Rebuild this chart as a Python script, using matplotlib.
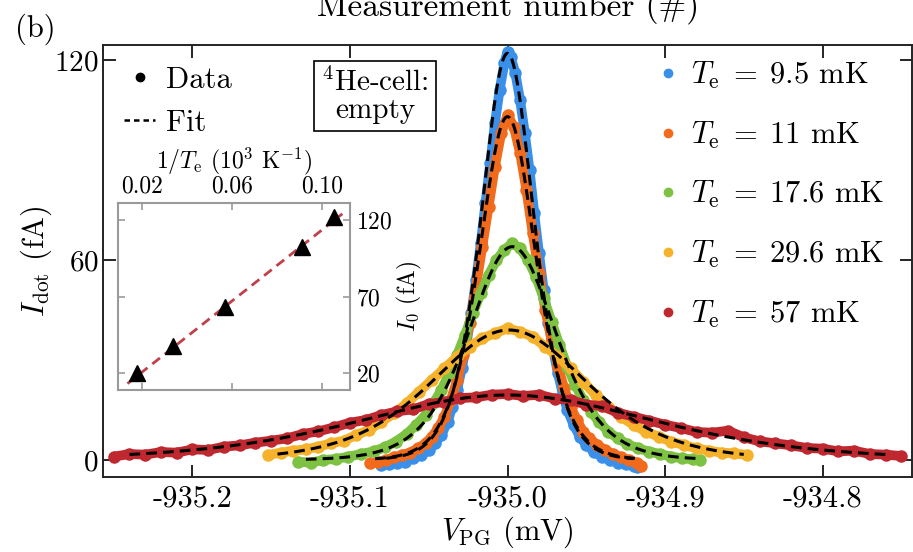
import numpy as np
import matplotlib
matplotlib.use("Agg")
import matplotlib.pyplot as plt
from matplotlib.lines import Line2D

plt.rcParams['font.family'] = 'serif'
plt.rcParams['font.serif'] = ['cmr10']
plt.rcParams['mathtext.fontset'] = 'cm'
plt.rcParams['axes.formatter.use_mathtext'] = True

# ---------------- data ----------------
temps_mK = [9.5, 11, 17.6, 29.6, 57]
temp_labels = ['9.5', '11', '17.6', '29.6', '57']
colors = ['#3a8fe8', '#f26b1d', '#7dc242', '#f7b22c', '#c0282f']

blue_v = [-935.080, -935.075, -935.070, -935.065, -935.060, -935.055, -935.050, -935.046, -935.042,
          -935.038, -935.035, -935.032, -935.029, -935.026, -935.023, -935.020, -935.017, -935.014,
          -935.011, -935.008, -935.005, -935.002, -935.000, -934.998, -934.995, -934.992, -934.989,
          -934.986, -934.983, -934.980, -934.977, -934.974, -934.971, -934.968, -934.965, -934.962,
          -934.958, -934.954, -934.950, -934.945, -934.940, -934.935, -934.930, -934.925, -934.920,
          -934.918]
blue_i = [-1.5, -1.2, -0.8, -0.5, 0.5, 1.5, 3.0, 5.0, 7.5,
          11.5, 16.0, 21.0, 27.5, 35.0, 44.0, 54.0, 65.0, 77.0,
          89.0, 101.0, 111.0, 119.0, 122.5, 121.0, 116.0, 108.0, 98.0,
          87.0, 74.0, 62.0, 51.0, 41.0, 33.0, 26.0, 20.0, 15.0,
          10.5, 7.0, 4.5, 2.5, 1.0, 0.0, -0.8, -1.3, -1.8,
          -2.0]

orange_v = [-935.087, -935.082, -935.077, -935.072, -935.067, -935.062, -935.057, -935.052, -935.048,
            -935.044, -935.040, -935.036, -935.032, -935.028, -935.024, -935.020, -935.016, -935.012,
            -935.008, -935.004, -935.000, -934.996, -934.992, -934.988, -934.984, -934.980, -934.976,
            -934.972, -934.968, -934.964, -934.960, -934.956, -934.952, -934.948, -934.943, -934.938,
            -934.933, -934.928, -934.923, -934.918, -934.915]
orange_i = [-1.0, -0.5, 0.0, 0.8, 1.5, 2.2, 3.5, 5.0, 7.0,
            9.5, 13.0, 18.0, 24.0, 31.5, 41.0, 52.0, 64.0, 76.0,
            88.0, 98.0, 103.5, 100.0, 92.0, 81.0, 68.0, 56.0, 45.0,
            36.0, 28.0, 21.5, 16.0, 12.0, 8.5, 6.5, 4.5, 3.0,
            1.8, 0.8, 0.0, -0.8, -1.8]

green_v = [-935.133, -935.125, -935.117, -935.109, -935.101, -935.093, -935.085, -935.078, -935.071,
           -935.064, -935.058, -935.052, -935.047, -935.042, -935.037, -935.032, -935.027, -935.022,
           -935.017, -935.012, -935.007, -935.002, -934.997, -934.992, -934.987, -934.982, -934.977,
           -934.972, -934.967, -934.962, -934.957, -934.952, -934.947, -934.942, -934.936, -934.930,
           -934.924, -934.917, -934.910, -934.903, -934.896, -934.889, -934.882, -934.878]
green_i = [-0.5, -0.8, 0.0, 0.3, 1.0, 1.8, 2.6, 3.8, 5.5,
           7.8, 10.5, 13.5, 17.0, 21.0, 26.0, 31.5, 37.5, 44.0,
           50.0, 55.5, 60.0, 63.0, 65.0, 63.5, 60.0, 55.0, 48.5,
           41.5, 34.5, 28.0, 22.5, 18.0, 14.5, 11.5, 8.5, 6.5,
           4.8, 3.5, 2.5, 1.8, 1.0, 0.5, 0.2, 0.0]

yellow_v = [-935.152, -935.144, -935.136, -935.128, -935.120, -935.112, -935.104, -935.096, -935.088,
            -935.080, -935.072, -935.064, -935.056, -935.048, -935.040, -935.032, -935.024, -935.016,
            -935.008, -935.000, -934.992, -934.984, -934.976, -934.968, -934.960, -934.952, -934.944,
            -934.936, -934.928, -934.920, -934.912, -934.904, -934.896, -934.888, -934.880, -934.872,
            -934.864, -934.856, -934.848]
yellow_i = [1.5, 2.2, 2.8, 3.2, 4.0, 5.0, 5.8, 7.5, 9.0,
            11.5, 14.0, 17.0, 20.5, 24.0, 27.5, 31.0, 34.0, 36.5,
            38.0, 39.5, 38.5, 37.0, 34.0, 31.0, 27.5, 23.5, 19.5,
            16.0, 13.0, 10.5, 8.5, 7.0, 5.5, 4.5, 3.5, 2.8,
            2.2, 2.0, 1.5]

red_v = [-935.250, -935.240, -935.230, -935.220, -935.210, -935.200, -935.190, -935.180, -935.170,
         -935.160, -935.150, -935.140, -935.130, -935.120, -935.110, -935.100, -935.090, -935.080,
         -935.070, -935.060, -935.050, -935.040, -935.030, -935.020, -935.010, -935.000, -934.990,
         -934.980, -934.970, -934.960, -934.950, -934.940, -934.930, -934.920, -934.910, -934.900,
         -934.890, -934.880, -934.870, -934.860, -934.850, -934.840, -934.830, -934.820, -934.810,
         -934.800, -934.790, -934.780, -934.770, -934.760, -934.750]
red_i = [1.0, 1.8, 1.6, 2.4, 2.2, 3.2, 3.0, 4.0, 4.4,
         5.2, 5.8, 6.5, 7.8, 8.6, 9.8, 11.2, 12.0, 13.5,
         14.6, 15.2, 16.8, 17.4, 18.6, 18.8, 19.6, 19.8, 19.2,
         19.6, 18.4, 18.0, 16.6, 16.2, 14.2, 13.0, 11.8, 10.6,
         9.6, 8.4, 8.2, 8.8, 6.8, 5.6, 5.0, 4.4, 3.6,
         3.4, 2.6, 2.8, 1.8, 1.6, 1.2]

# fit parameters (cosh^-2 line shape): amplitude, centre, width, fit range
fit_I0 = [122, 103, 64, 39, 19.5]
fit_V0 = [-935.000, -935.000, -934.997, -934.999, -935.000]
fit_w = [0.0225, 0.024, 0.037, 0.066, 0.126]
fit_lo = [-935.077, -935.084, -935.128, -935.146, -935.240]
fit_hi = [-934.920, -934.917, -934.880, -934.850, -934.758]

# inset
inset_invT = [1 / t for t in temps_mK]   # 10^3 K^-1
inset_I0 = [122, 102, 63, 38, 20]
inset_slope, inset_icpt = 1160, -2.5
inset_fit_range = [0.0135, 0.109]

xticks = [-935.2, -935.1, -935.0, -934.9, -934.8]
xticklabels = ['-935.2', '-935.1', '-935.0', '-934.9', '-934.8']
yticks = [0, 60, 120]
in_xticks = [0.02, 0.06, 0.10]
in_xticklabels = ['0.02', '0.06', '0.10']
in_yticks = [20, 70, 120]

series_v = [blue_v, orange_v, green_v, yellow_v, red_v]
series_i = [blue_i, orange_i, green_i, yellow_i, red_i]

# ---------------- figure ----------------
fig = plt.figure(figsize=(9.13, 5.52), dpi=100)
ax = fig.add_axes([103 / 913, 1 - 477 / 552, (912 - 103) / 913, (477 - 45) / 552])

for k, (v, i) in enumerate(zip(series_v, series_i)):
    ax.plot(v, i, '-', color=colors[k], lw=7.0, marker='o', ms=9.0, mew=0,
            solid_joinstyle='round', solid_capstyle='round', zorder=2 + k)

for k in range(5):
    vv = np.linspace(fit_lo[k], fit_hi[k], 400)
    ff = fit_I0[k] / np.cosh((vv - fit_V0[k]) / fit_w[k]) ** 2
    ln, = ax.plot(vv, ff, color='black', lw=2.2, zorder=10)
    ln.set_dashes((3.5, 2.0))

ax.set_xlim(-935.2568, -934.7432)
ax.set_ylim(-5.1, 124.5)
ax.set_xticks(xticks)
ax.set_xticklabels(xticklabels)
ax.set_yticks(yticks)
ax.tick_params(which='both', direction='in', top=True, right=True, length=9,
               width=1.2, labelsize=22, pad=6)
ax.tick_params(axis='y', pad=3, labelsize=21)
for s in ax.spines.values():
    s.set_linewidth(1.4)
    s.set_color('#222222')

ax.set_xlabel(r'$V_{\mathrm{PG}}$ (mV)', fontsize=22, labelpad=1)
ax.set_ylabel(r'$I_{\mathrm{dot}}$ (fA)', fontsize=22, labelpad=0)

# left legend (Data / Fit)
h_data = Line2D([], [], color='black', marker='o', ls='none', ms=6)
h_fit = Line2D([], [], color='black', ls=(0, (2.2, 1.6)), lw=1.8)
leg1 = ax.legend([h_data, h_fit], ['Data', 'Fit'], loc='upper left',
                 bbox_to_anchor=(0.0, 1.0), frameon=False, fontsize=22,
                 handlelength=1.0, handletextpad=0.35, labelspacing=0.5,
                 borderaxespad=0.3)
ax.add_artist(leg1)

# right legend (temperatures)
handles = [Line2D([], [], color=c, marker='o', ls='none', ms=6) for c in colors]
labels = [r'$T_{\rm e}\;=\;%s$ mK' % t for t in temp_labels]
ax.legend(handles, labels, loc='upper left', bbox_to_anchor=(0.665, 1.008),
          frameon=False, fontsize=22, handlelength=0.6, handletextpad=0.45,
          labelspacing=0.93, borderaxespad=0.2)

# He-cell box
ax.text(0.336, 0.882, '$^4$He-cell:\nempty', transform=ax.transAxes, ha='center',
        va='center', fontsize=21, linespacing=1.0,
        bbox=dict(boxstyle='square,pad=0.25', fc='white', ec='black', lw=1.2))

# top label and panel letter
fig.text(0.556, 1 - 16 / 552, 'Measurement number (#)', ha='center', va='baseline', fontsize=24)
fig.text(0.016, 1 - 37 / 552, '(b)', ha='left', va='baseline', fontsize=22)

# ---------------- inset ----------------
axi = fig.add_axes([118 / 913, 1 - 390 / 552, (350 - 118) / 913, (390 - 203) / 552])
axi.plot(inset_fit_range, [inset_slope * x + inset_icpt for x in inset_fit_range],
         color='#c0404a', lw=2.0, dashes=(3.5, 2.2), zorder=2)
axi.plot(inset_invT, inset_I0, '^', color='black', ms=12, zorder=3)
axi.set_xlim(0.0093, 0.1124)
axi.set_ylim(9, 131)
axi.set_xticks(in_xticks)
axi.set_xticklabels(in_xticklabels)
axi.set_yticks(in_yticks)
axi.xaxis.tick_top()
axi.yaxis.tick_right()
axi.tick_params(direction='in', top=True, bottom=True, left=True, right=True,
                labeltop=True, labelbottom=False, labelright=True, labelleft=False,
                length=5, width=1.2, color='#9a9a9a', labelsize=17, pad=4)
for s in axi.spines.values():
    s.set_linewidth(1.5)
    s.set_color('#9a9a9a')
axi.xaxis.set_label_position('top')
axi.yaxis.set_label_position('right')
axi.set_xlabel(r'$1/T_{\rm e}$ ($10^3$ K$^{-1}$)', fontsize=17, labelpad=5)
axi.set_ylabel(r'$I_0$ (fA)', fontsize=17, labelpad=2)

fig.savefig('out.png', dpi=100)
